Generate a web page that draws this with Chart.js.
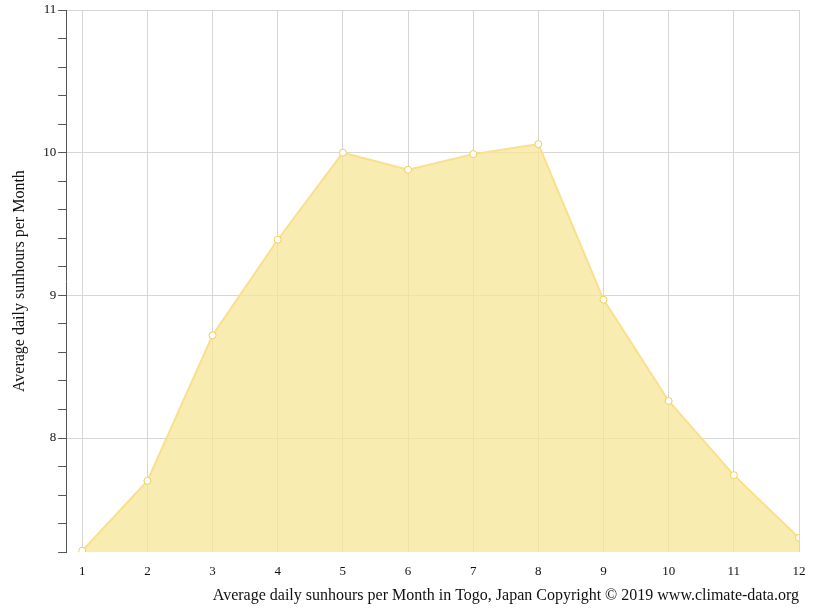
<!DOCTYPE html>
<html lang="en">
<head>
<meta charset="UTF-8">
<title>Sunhours Togo</title>
<script src="https://cdn.jsdelivr.net/npm/chart.js@4"></script>
<style>
    html, body { margin: 0; padding: 0; background: #fff; }
    #wrap { width: 815px; height: 611px; }
</style>
</head>
<body>
<div id="wrap"><canvas id="c" width="815" height="611"></canvas></div>
<script>
    var months = [1, 2, 3, 4, 5, 6, 7, 8, 9, 10, 11, 12];
    var sunhours = [7.21, 7.70, 8.72, 9.39, 10.0, 9.88, 9.99, 10.06, 8.97, 8.26, 7.74, 7.30];

    var isInt = function (v) { return Math.abs(v - Math.round(v)) < 1e-6; };

    new Chart(document.getElementById('c'), {
        type: 'line',
        data: {
            datasets: [{
                data: months.map(function (m, i) { return {x: m, y: sunhours[i]}; }),
                fill: 'start',
                backgroundColor: 'rgba(247,230,150,0.75)',
                borderColor: '#f8e08c',
                borderWidth: 2,
                pointRadius: 3.5,
                pointBackgroundColor: '#fff',
                pointBorderColor: '#f0cf55',
                pointBorderWidth: 1,
                tension: 0
            }]
        },
        options: {
            responsive: false,
            animation: false,
            devicePixelRatio: 1,
            layout: {padding: {left: 6, right: 16, top: 10, bottom: 0}},
            plugins: {
                legend: {display: false},
                tooltip: {enabled: false},
                title: {
                    display: true, position: 'bottom', align: 'end',
                    text: 'Average daily sunhours per Month in Togo, Japan Copyright \u00a9 2019 www.climate-data.org',
                    color: '#111', font: {family: 'Liberation Serif', size: 16, weight: 'normal'},
                    padding: {top: 2, bottom: 6}
                }
            },
            scales: {
                x: {
                    type: 'linear', min: 0.754, max: 12,
                    afterBuildTicks: function (s) {
                        s.ticks = months.map(function (m) { return {value: m}; });
                    },
                    ticks: {color: '#111', font: {family: 'Liberation Serif', size: 13}, padding: 4},
                    grid: {color: '#d6d6d6', tickLength: 8, tickColor: '#fff'},
                    border: {display: false}
                },
                y: {
                    min: 7.2, max: 11,
                    afterBuildTicks: function (s) {
                        var t = [];
                        for (var v = 7.2; v <= 11.001; v += 0.2) t.push({value: Math.round(v * 10) / 10});
                        s.ticks = t;
                    },
                    ticks: {
                        color: '#111', font: {family: 'Liberation Serif', size: 13}, padding: 2,
                        callback: function (v) { return isInt(v) ? v : ''; }
                    },
                    grid: {
                        color: function (ctx) { return ctx.tick && isInt(ctx.tick.value) ? '#d6d6d6' : 'rgba(0,0,0,0)'; },
                        tickColor: '#555', tickLength: 8
                    },
                    border: {display: true, color: '#555'},
                    title: {
                        display: true, text: 'Average daily sunhours per Month',
                        color: '#111', font: {family: 'Liberation Serif', size: 16}, padding: {bottom: 12}
                    }
                }
            }
        }
    });
</script>
</body>
</html>
